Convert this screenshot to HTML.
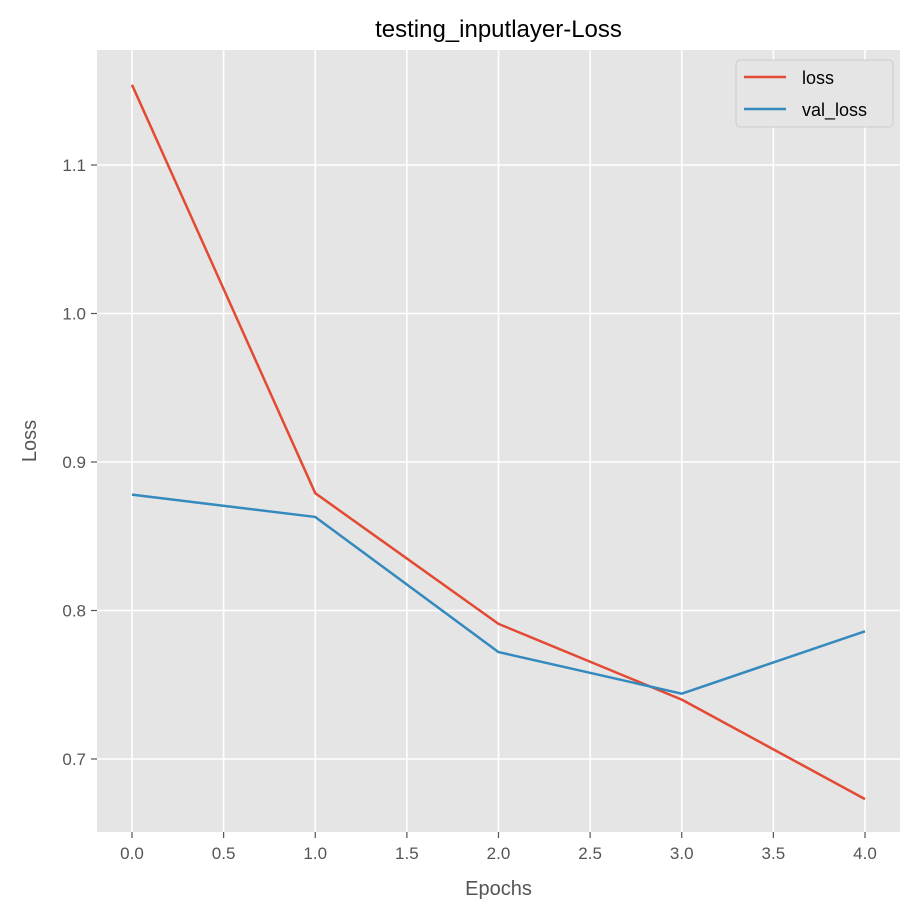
<!DOCTYPE html>
<html><head><meta charset="utf-8"><style>body{margin:0;background:#fff}svg{display:block;font-family:"Liberation Sans","DejaVu Sans",sans-serif}</style></head>
<body>
<svg id="chart" width="917" height="916">
<rect x="0" y="0" width="917" height="916" fill="#fff"/>
<rect x="97" y="50" width="803" height="782" fill="#e5e5e5"/>
<g id="grid"></g><g id="ticks"></g><g id="series"></g>
<text x="498.5" y="37" text-anchor="middle" font-size="24" fill="#000">testing_inputlayer-Loss</text>
<text x="498.5" y="895" text-anchor="middle" font-size="20" fill="#555">Epochs</text>
<text transform="translate(36,441) rotate(-90)" text-anchor="middle" font-size="20" fill="#555">Loss</text>
<g>
<rect x="736" y="60" width="157" height="67" rx="4" fill="#e5e5e5" stroke="#ccc" stroke-width="1"/>
<line x1="744" y1="77" x2="786" y2="77" stroke="#e24a33" stroke-width="2.5"/>
<text x="802" y="84" font-size="18" fill="#000">loss</text>
<line x1="744" y1="109" x2="786" y2="109" stroke="#348abd" stroke-width="2.5"/>
<text x="802" y="116" font-size="18" fill="#000">val_loss</text>
</g>
</svg>
<script>
const epochs=[0,1,2,3,4];
const lossValues=[1.154,0.879,0.791,0.740,0.673];
const valLossValues=[0.878,0.863,0.772,0.744,0.786];
const xTicks=[0,0.5,1,1.5,2,2.5,3,3.5,4];
const xTickLabels=["0.0","0.5","1.0","1.5","2.0","2.5","3.0","3.5","4.0"];
const yTicks=[0.7,0.8,0.9,1.0,1.1];
const yTickLabels=["0.7","0.8","0.9","1.0","1.1"];
const NS="http://www.w3.org/2000/svg";
const xs=v=>132+v*183.25;
const ys=v=>759-(v-0.7)*1485;
function mk(t,a,p){const e=document.createElementNS(NS,t);for(const k in a)e.setAttribute(k,a[k]);p.appendChild(e);return e;}
const grid=document.getElementById('grid'),ticks=document.getElementById('ticks'),series=document.getElementById('series');
xTicks.forEach((v,i)=>{
 const l=mk('line',{x1:xs(v),x2:xs(v),y1:50,y2:832,stroke:'#fff','stroke-width':1.6},grid);
 
 
 const tk=mk('line',{x1:xs(v),x2:xs(v),y1:832,y2:838,stroke:'#555','stroke-width':1.2},ticks);
 
 
 const t=mk('text',{x:xs(v),y:859,'text-anchor':'middle','font-size':17,fill:'#555'},ticks);
 t.textContent=xTickLabels[i];
 
 
});
yTicks.forEach((v,i)=>{
 const l=mk('line',{x1:97,x2:900,y1:ys(v),y2:ys(v),stroke:'#fff','stroke-width':1.6},grid);
 
 
 const tk=mk('line',{x1:91,x2:97,y1:ys(v),y2:ys(v),stroke:'#555','stroke-width':1.2},ticks);
 
 
 const t=mk('text',{x:86,y:ys(v)+6,'text-anchor':'end','font-size':17,fill:'#555'},ticks);
 t.textContent=yTickLabels[i];
 
 
});
function line(vals,color,name){
 const p=mk('polyline',{points:epochs.map((e,i)=>xs(e)+','+ys(vals[i])).join(' '),fill:'none',stroke:color,'stroke-width':2.5,'stroke-linejoin':'round'},series);
 
 
}
line(lossValues,'#e24a33','loss-line');
line(valLossValues,'#348abd','val-loss-line');
</script>
</body></html>
